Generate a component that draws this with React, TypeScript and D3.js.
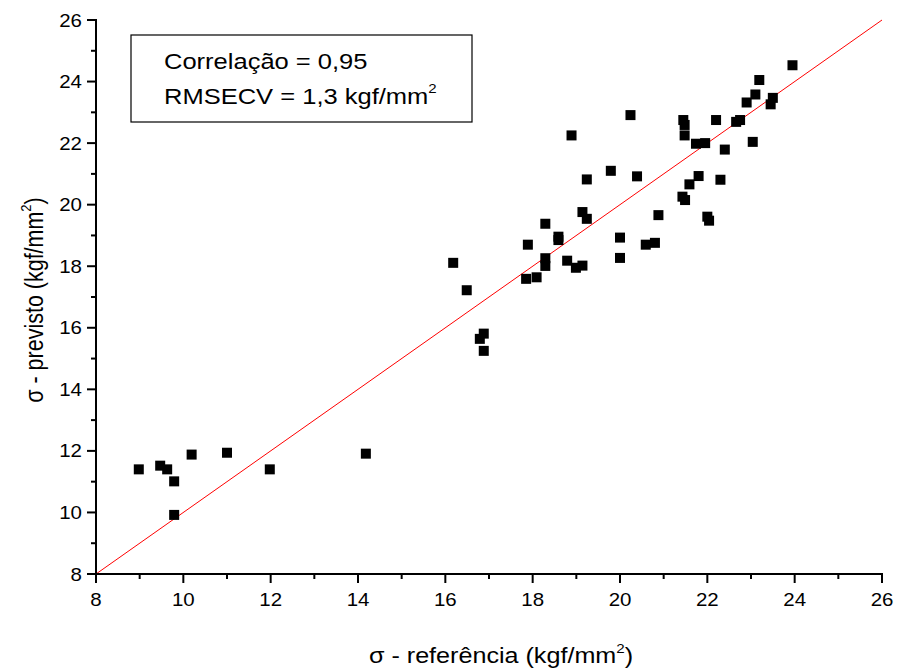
import React, { useEffect } from "react";
import * as d3 from "d3";

const refValues = [8.98, 9.47, 9.63, 9.79, 9.79, 10.19, 11.0, 11.98, 14.18,
  16.18, 16.49, 16.79, 16.88, 16.88, 17.85, 17.89, 18.09, 18.29, 18.29, 18.29,
  18.59, 18.59, 18.79, 18.89, 18.99, 19.14, 19.14, 19.24, 19.24, 19.79, 20.0, 20.0,
  20.24, 20.39, 20.59, 20.8, 20.88,
  21.43, 21.49, 21.45, 21.48, 21.48, 21.59, 21.74, 21.8, 21.95, 22.0, 22.04, 22.2,
  22.3, 22.4, 22.66, 22.75, 22.9, 23.04, 23.1, 23.19, 23.45, 23.5, 23.95];
const predValues = [11.40, 11.52, 11.40, 11.01, 9.92, 11.88, 11.94, 11.40, 11.91,
  18.11, 17.22, 15.64, 15.81, 15.25, 17.59, 18.70, 17.64, 19.38, 18.26, 18.01,
  18.96, 18.85, 18.18, 22.25, 17.95, 19.76, 18.02, 19.54, 20.82, 21.10, 18.93, 18.27,
  22.91, 20.92, 18.70, 18.76, 19.66,
  20.26, 20.15, 22.75, 22.59, 22.25, 20.66, 21.98, 20.93, 22.0, 19.61, 19.48, 22.75,
  20.81, 21.79, 22.69, 22.75, 23.32, 22.04, 23.58, 24.05, 23.26, 23.47, 24.53];
const majorTicks = [8, 10, 12, 14, 16, 18, 20, 22, 24, 26];
const minorTicks = [9, 11, 13, 15, 17, 19, 21, 23, 25];
const fitLine = [8, 26];

const W = 897, H = 672;
const FONT = "'Liberation Sans', Arial, Helvetica, sans-serif";
const SX = 1.17;

export default function App() {
  useEffect(() => { document.body.style.margin = "0"; }, []);
  const x = d3.scaleLinear().domain([8, 26]).range([96, 882]);
  const y = d3.scaleLinear().domain([8, 26]).range([574, 20]);
  const ms = 10;
  const line = d3.line<number>().x(d => x(d)).y(d => y(d));
  return (
    <svg width={W} height={H} style={{ display: "block", background: "#fff" }} fontFamily={FONT}>
      <path d={line(fitLine) || ""} stroke="#ff0000" strokeWidth={1} fill="none" />
      {refValues.map((v, i) => (
        <rect key={i} x={x(v) - ms / 2} y={y(predValues[i]) - ms / 2} width={ms} height={ms} fill="#000" />
      ))}
      {/* x axis */}
      <line x1={x(8) - 1} x2={x(26) + 1} y1={y(8)} y2={y(8)} stroke="#000" strokeWidth={2} />
      {majorTicks.map(t => (
        <g key={"xm" + t}>
          <line x1={x(t)} x2={x(t)} y1={y(8)} y2={y(8) + 9} stroke="#000" strokeWidth={2} />
          <text transform={`translate(${x(t)},${y(8) + 32}) scale(${SX},1)`} textAnchor="middle" fontSize={17.5}>{t}</text>
        </g>
      ))}
      {minorTicks.map(t => (
        <line key={"xn" + t} x1={x(t)} x2={x(t)} y1={y(8)} y2={y(8) + 5} stroke="#000" strokeWidth={2} />
      ))}
      {/* y axis */}
      <line x1={x(8)} x2={x(8)} y1={y(8) + 1} y2={y(26) - 1} stroke="#000" strokeWidth={2} />
      {majorTicks.map(t => (
        <g key={"ym" + t}>
          <line x1={x(8) - 9} x2={x(8)} y1={y(t)} y2={y(t)} stroke="#000" strokeWidth={2} />
          <text transform={`translate(${x(8) - 14},${y(t) + 6.5}) scale(${SX},1)`} textAnchor="end" fontSize={17.5}>{t}</text>
        </g>
      ))}
      {minorTicks.map(t => (
        <line key={"yn" + t} x1={x(8) - 5} x2={x(8)} y1={y(t)} y2={y(t)} stroke="#000" strokeWidth={2} />
      ))}
      {/* axis titles */}
      <text transform={`translate(501,663) scale(${SX},1)`} textAnchor="middle" fontSize={21.5}>
        σ - referência (kgf/mm<tspan fontSize={13} dy={-10}>2</tspan><tspan dy={10}>)</tspan>
      </text>
      <text transform={`translate(43,300) scale(${SX},1) rotate(-90)`} textAnchor="middle" fontSize={21.5}>
        σ - previsto (kgf/mm<tspan fontSize={13} dy={-10}>2</tspan><tspan dy={10}>)</tspan>
      </text>
      {/* legend box */}
      <rect x={131} y={35} width={341} height={87} fill="#fff" stroke="#000" strokeWidth={1.2} />
      <text transform={`translate(164,69) scale(1.16,1)`} fontSize={22}>Correlação = 0,95</text>
      <text transform={`translate(164,104) scale(1.16,1)`} fontSize={22}>
        RMSECV = 1,3 kgf/mm<tspan fontSize={13} dy={-11}>2</tspan>
      </text>
    </svg>
  );
}
